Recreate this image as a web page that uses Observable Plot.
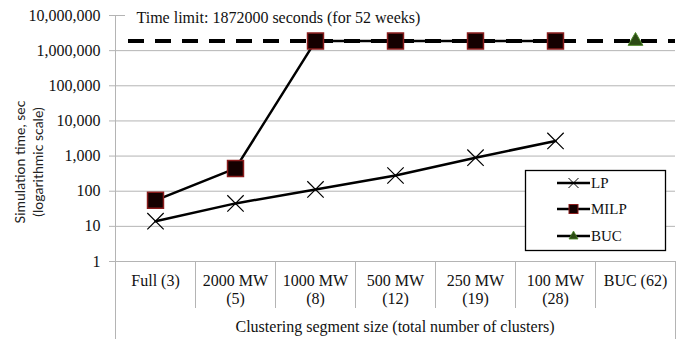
<!DOCTYPE html>
<html>
<head>
<meta charset="utf-8">
<script src="https://cdn.jsdelivr.net/npm/d3@7"></script>
<script src="https://cdn.jsdelivr.net/npm/@observablehq/plot@0.6"></script>
<style>
  html, body { margin: 0; padding: 0; background: #fff; }
  #chart { width: 694px; height: 339px; }
  #chart svg text { font-family: "Liberation Serif", "Times New Roman", serif; }
  #chart svg text.sans { font-family: Lato, "Open Sans", "Liberation Sans", sans-serif; }
</style>
</head>
<body>
<div id="chart"></div>
<script>
// ---- data ----
const categories = ["Full (3)", "2000 MW\n(5)", "1000 MW\n(8)", "500 MW\n(12)", "250 MW\n(19)", "100 MW\n(28)", "BUC (62)"];
const lpValues   = [14, 45, 112, 280, 900, 2700];
const milpValues = [55, 445, 1872000, 1872000, 1872000, 1872000];
const bucValues  = [null, null, null, null, null, null, 1872000];
const timeLimit  = 1872000;
const yTicks     = [1, 10, 100, 1000, 10000, 100000, 1000000, 10000000];
const titleText  = "Time limit: 1872000 seconds (for 52 weeks)";
const xLabel     = "Clustering segment size (total number of clusters)";
const yLabelLines = ["Simulation time, sec", "(logarithmic scale)"];
const legendItems = ["LP", "MILP", "BUC"];

const lp   = lpValues.map((v, i) => ({cat: categories[i], v}));
const milp = milpValues.map((v, i) => ({cat: categories[i], v}));
const buc  = bucValues.map((v, i) => ({cat: categories[i], v})).filter(d => d.v != null);

const gridColor = "#b4b4b4";
const sqFill = "#140000", sqStroke = "#8a1c1c";
const triFill = "#2b4a14", triStroke = "#4f8a2a";

// separators between the category cells (uses the plot's x/y scales)
function separators(index, scales, values, dimensions) {
  const g = d3.create("svg:g").attr("stroke", gridColor).attr("stroke-width", 1);
  const x0 = scales.x(categories[0]), x1 = scales.x(categories[1]);
  const step = x1 - x0;
  const yBase = scales.y(1);
  const n = categories.length;
  for (let i = 0; i <= n; i++) {
    const x = Math.round(x0 - step / 2 + i * step) + 0.5;
    const outer = (i === 0 || i === n);
    g.append("line").attr("x1", x).attr("x2", x)
      .attr("y1", i === 0 ? dimensions.marginTop : yBase)
      .attr("y2", outer ? dimensions.height : yBase + 47);
  }
  return g.node();
}

// rotated two-line y-axis title
function yTitle(index, scales, values, dimensions) {
  const g = d3.create("svg:g");
  const cy = 162;
  yLabelLines.forEach((line, i) => {
    g.append("text").attr("class", "sans")
      .attr("transform", `translate(${25 + i * 18},${cy}) rotate(-90)`)
      .attr("text-anchor", "middle").attr("font-size", 14).attr("fill", "#222")
      .text(line);
  });
  return g.node();
}

// legend box
function legend(index, scales, values, dimensions) {
  const g = d3.create("svg:g");
  g.append("rect").attr("x", 525.5).attr("y", 170.5).attr("width", 140).attr("height", 80)
    .attr("fill", "#fff").attr("stroke", "#000").attr("stroke-width", 1.3);
  const ys = [183, 209, 236];
  legendItems.forEach((name, i) => {
    const y = ys[i];
    g.append("line").attr("x1", 557).attr("x2", 590).attr("y1", y).attr("y2", y)
      .attr("stroke", "#000").attr("stroke-width", 2.5);
    const cx = 573.5;
    if (name === "LP") {
      g.append("path").attr("d", `M${cx-5},${y-5}L${cx+5},${y+5}M${cx-5},${y+5}L${cx+5},${y-5}`)
        .attr("stroke", "#000").attr("stroke-width", 1);
    } else if (name === "MILP") {
      g.append("rect").attr("x", cx - 4.5).attr("y", y - 4.5).attr("width", 9).attr("height", 9)
        .attr("fill", sqFill).attr("stroke", sqStroke).attr("stroke-width", 1);
    } else {
      g.append("path").attr("d", `M${cx},${y-5}L${cx+4.5},${y+3}L${cx-4.5},${y+3}Z`)
        .attr("fill", triFill).attr("stroke", triStroke).attr("stroke-width", 0.8);
    }
    g.append("text").attr("x", 591).attr("y", y).attr("dy", "0.35em")
      .attr("text-anchor", "start").attr("font-size", 15).attr("fill", "#111").text(name);
  });
  return g.node();
}

const chart = Plot.plot({
  width: 694,
  height: 339,
  marginLeft: 114,
  marginRight: 19,
  marginTop: 15,
  marginBottom: 78,
  style: {fontSize: "16px", color: "#111", background: "#fff"},
  x: {type: "point", domain: categories, padding: 0.5, axis: null},
  y: {type: "log", domain: [1, 1e7], ticks: yTicks, tickFormat: d3.format(","), tickSize: 0, tickPadding: 14, label: null},
  marks: [
    Plot.ruleY(yTicks.filter(t => t < 1e7), {stroke: gridColor, strokeWidth: 1, insetLeft: -5}),
    Plot.ruleY([1e7], {stroke: gridColor, strokeWidth: 1, insetLeft: -5, insetRight: 550}),
    separators,
    Plot.ruleY([timeLimit], {stroke: "#000", strokeWidth: 4, strokeDasharray: "16,11", insetLeft: 14}),
    Plot.line(lp, {x: "cat", y: "v", stroke: "#000", strokeWidth: 2.5}),
    Plot.line(milp, {x: "cat", y: "v", stroke: "#000", strokeWidth: 2.5}),
    Plot.dot(lp, {x: "cat", y: "v", symbol: "times", r: 7.5, stroke: "#000", strokeWidth: 1.2}),
    Plot.dot(milp, {x: "cat", y: "v", symbol: "square", r: 9, fill: sqFill, stroke: sqStroke, strokeWidth: 1.5}),
    Plot.dot(buc, {x: "cat", y: "v", symbol: "triangle", r: 5.5, fill: triFill, stroke: triStroke, strokeWidth: 1}),
    Plot.text(categories, {x: d => d, text: d => d, frameAnchor: "bottom", lineAnchor: "top", dy: 12, lineHeight: 1.1, fontSize: 16, fill: "#111"}),
    Plot.text([xLabel], {text: d => d, frameAnchor: "bottom", lineAnchor: "middle", dy: 65, fontSize: 16, fill: "#111"}),
    Plot.text([titleText], {text: d => d, frameAnchor: "top-left", textAnchor: "start", lineAnchor: "middle", dx: 22, dy: 2, fontSize: 16, fill: "#111"}),
    yTitle,
    legend
  ]
});
document.getElementById("chart").appendChild(chart);
</script>
</body>
</html>
